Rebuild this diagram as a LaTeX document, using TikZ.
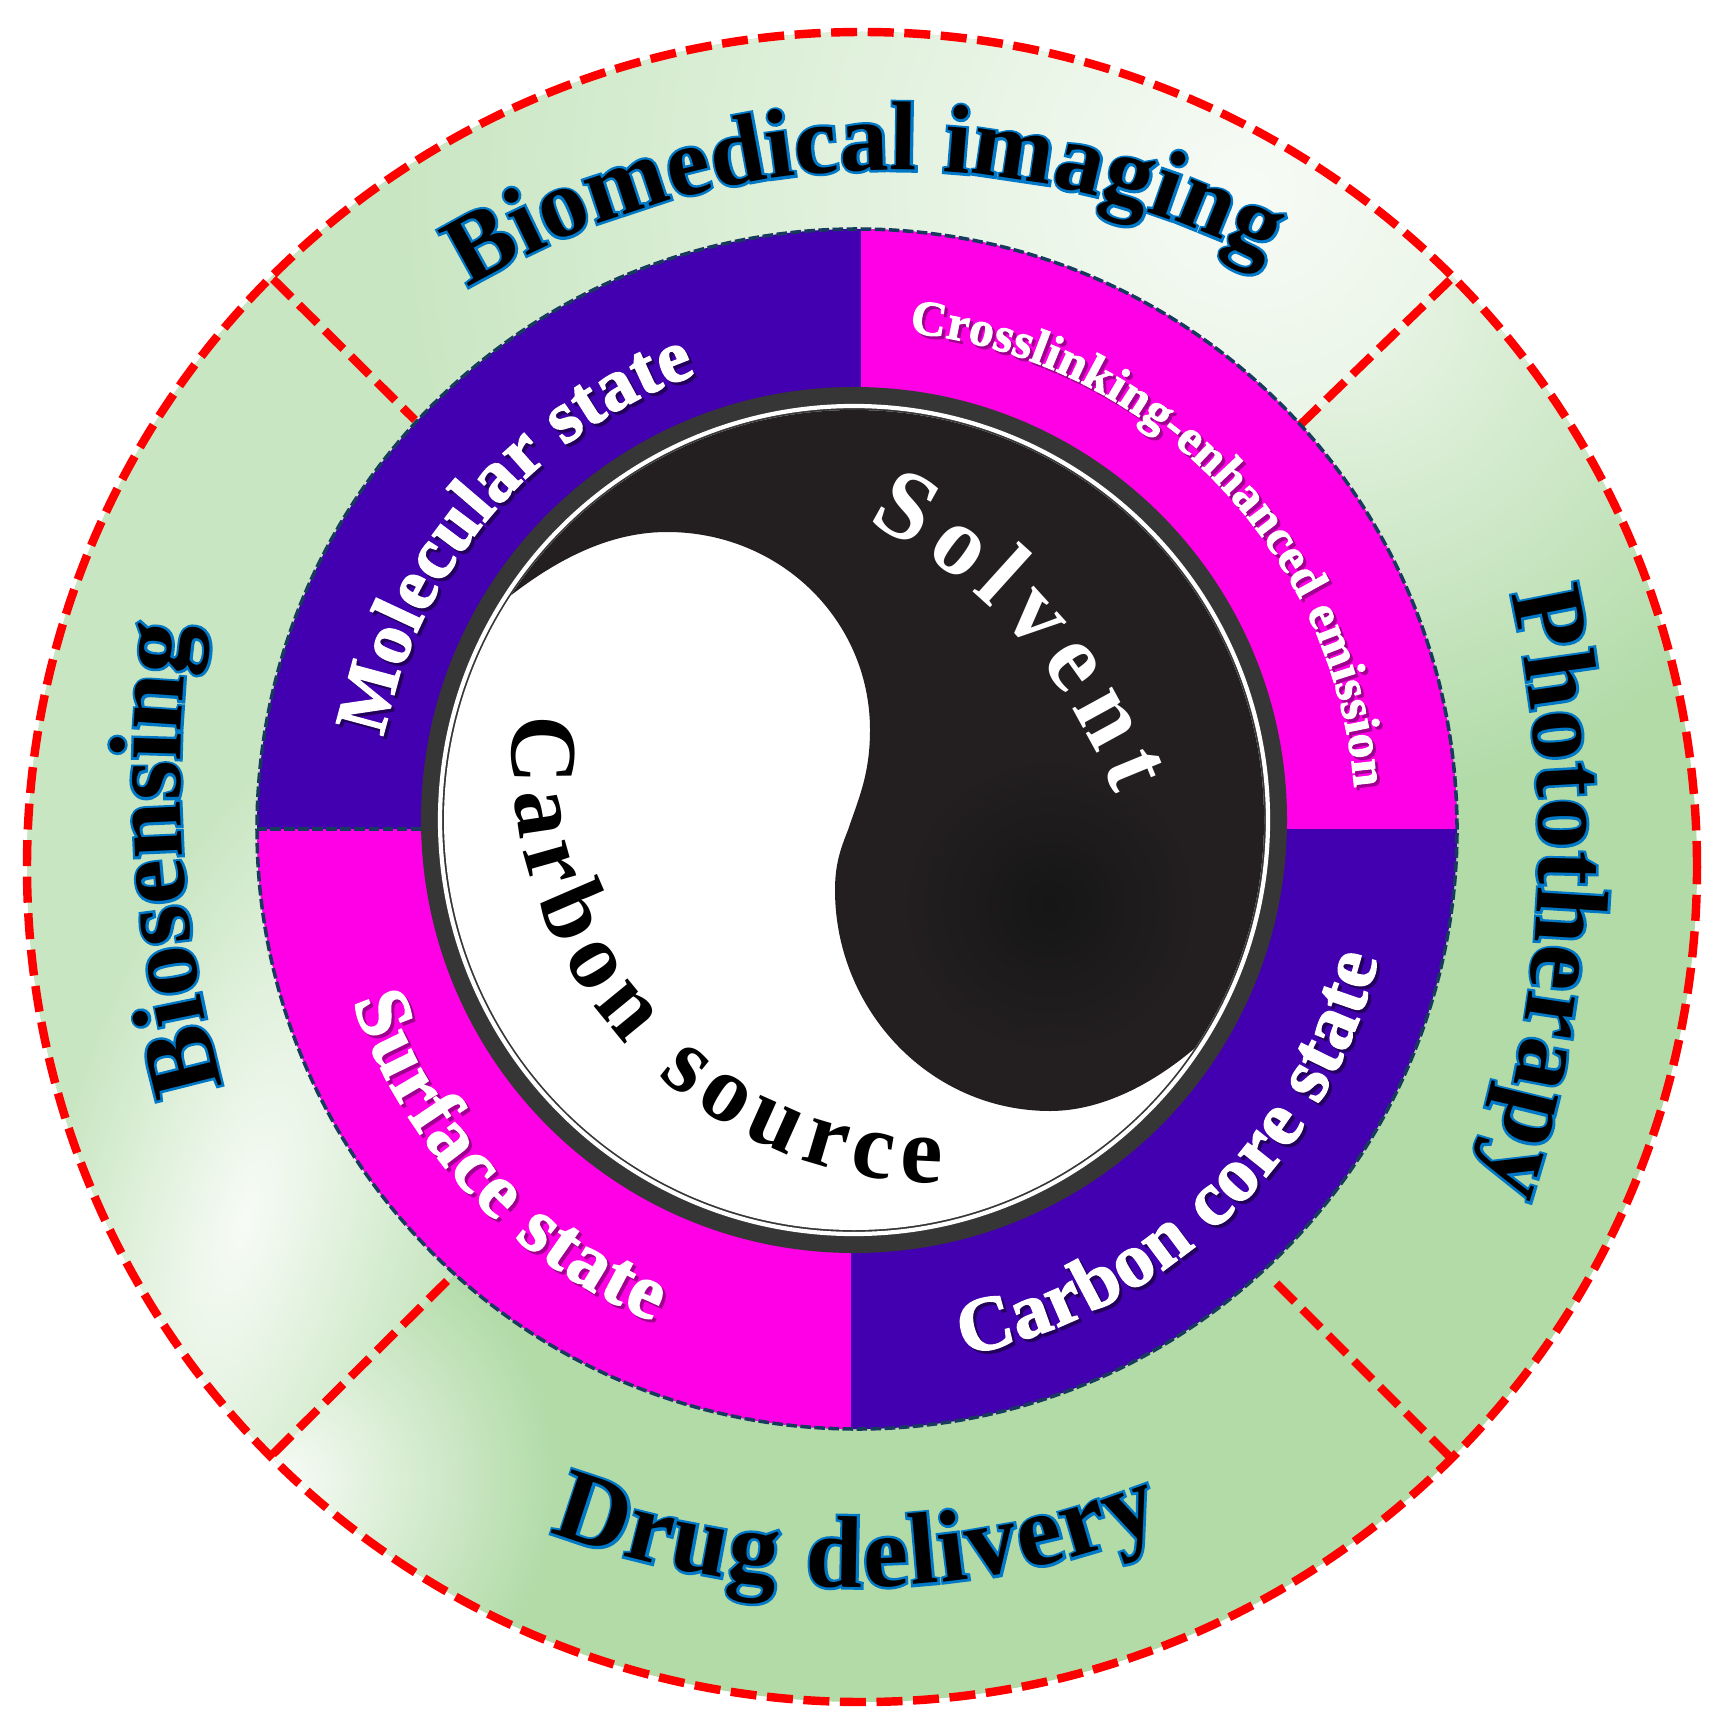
\documentclass[tikz,border=0pt]{standalone}
\usepackage{fontspec}
\usetikzlibrary{decorations.text}
\setmainfont{Liberation Serif}
\newfontface\boldface{Liberation Serif Bold}
\newfontface\heavyface[FakeBold=2]{Liberation Serif Bold}
\newfontface\haloface[FakeBold=5]{Liberation Serif Bold}
\definecolor{ringgreen}{HTML}{B2DBA8}
\definecolor{palegreen}{HTML}{C9E6C2}
\definecolor{highlight}{HTML}{F7FBF6}
\definecolor{dashred}{HTML}{FF0000}
\definecolor{magentaseg}{HTML}{FF00E6}
\definecolor{purpleseg}{HTML}{4300B0}
\definecolor{edgeblue}{HTML}{173A5E}
\definecolor{ringdark}{HTML}{363636}
\definecolor{solventblack}{HTML}{231F20}
\definecolor{blobblack}{HTML}{161616}
\definecolor{haloblue}{HTML}{0078C8}
\definecolor{shadepurple}{HTML}{22005C}
\definecolor{shademagenta}{HTML}{A00090}
\tikzset{
  reddash/.style={draw=dashred,line width=2.4pt,dash pattern=on 7.4pt off 3pt},
}
% cx cy r start end format text
\newcommand\arctxt[7]{%
  \path[decorate,decoration={text along path,text align={fit to path},text={|#6|#7}}]
    ([shift={(#1,#2)}]#4:#3) arc[start angle=#4,end angle=#5,radius=#3];}
% application label: blue halo, then black
\newcommand\halolabel[7]{%
  \arctxt{#1}{#2}{#3}{#4}{#5}{\haloface\fontsize{#6}{#6}\selectfont\color{haloblue}}{#7}%
  \arctxt{#1}{#2}{#3}{#4}{#5}{\boldface\fontsize{#6}{#6}\selectfont\color{black}}{#7}}
% state label: shadow, then heavy white
\newcommand\shadowlabel[8]{%
  \begin{scope}[shift={(3,-3)}]
  \arctxt{#1}{#2}{#3}{#4}{#5}{\heavyface\fontsize{#6}{#6}\selectfont\color{#8}}{#7}%
  \end{scope}
  \arctxt{#1}{#2}{#3}{#4}{#5}{\heavyface\fontsize{#6}{#6}\selectfont\color{white}}{#7}}
\begin{document}
\begin{tikzpicture}[x=0.01cm,y=0.01cm]
\useasboundingbox (0,0) rectangle (1728,-1734);
\fill[white] (0,0) rectangle (1728,-1734);
% outer green ring with its highlights
\begin{scope}
  \clip (862,-867) circle (835);
  \fill[ringgreen] (0,0) rectangle (1728,-1734);
  \begin{scope}
    \clip (862,-867) -- (-38,33) -- (1762,33) -- cycle;
    \fill[palegreen] (0,0) rectangle (1728,-1734);
    \shade[inner color=highlight,outer color=palegreen] (1250,-188) circle (850);
  \end{scope}
  \begin{scope}
    \clip (862,-867) -- (1762,33) -- (1762,-1767) -- cycle;
    \shade[inner color=highlight!80!palegreen,outer color=ringgreen] (1340,-300) circle (500);
  \end{scope}
  \begin{scope}
    \clip (862,-867) -- (1762,-1767) -- (-38,-1767) -- cycle;
    \shade[inner color=highlight,outer color=ringgreen] (285,-1480) circle (270);
  \end{scope}
  \begin{scope}
    \clip (862,-867) -- (-38,-1767) -- (-38,33) -- cycle;
    \fill[palegreen] (0,0) rectangle (1728,-1734);
    \begin{scope}[transform canvas={shift={(245,-1220)},rotate=-15.6}]
      \shade[inner color=highlight,outer color=palegreen] (0,0) ellipse [x radius=200,y radius=520];
    \end{scope}
  \end{scope}
\end{scope}
% radial red dashes and dashed outer circle
\draw[reddash] (273,-279) -- (415,-420);
\draw[reddash] (1450,-280) -- (1298,-427);
\draw[reddash] (1450,-1457) -- (1270,-1277);
\draw[reddash] (273,-1454) -- (451,-1277);
\draw[reddash] (862,-867) circle (835);
% four state segments
\begin{scope}
  \clip (857,-829) circle (600);
  \fill[purpleseg] (200,-200) rectangle (1500,-1450);
  \fill[magentaseg] (861,-200) rectangle (1500,-829);
  \fill[magentaseg] (200,-829) rectangle (851,-1450);
  \draw[edgeblue,line width=1pt,dash pattern=on 3pt off 1pt] (256,-829) -- (500,-829);
\end{scope}
\draw[edgeblue,line width=1pt,dash pattern=on 3pt off 1pt] (857,-829) circle (600);
% dark rim and yin-yang disc
\fill[ringdark] (854,-820) circle (433);
\draw[white,line width=1.2pt] (854,-820) circle (414);
\begin{scope}
  \clip (854,-820) circle (410);
  \fill[white] (400,-400) rectangle (1300,-1260);
  \fill[solventblack] (470,-630)
    .. controls (530,-575) and (595,-532) .. (667,-532)
    .. controls (780,-532) and (870,-620) .. (870,-730)
    .. controls (870,-775) and (858,-800) .. (848,-830)
    .. controls (840,-850) and (835,-865) .. (835,-890)
    .. controls (835,-1010) and (930,-1111) .. (1050,-1111)
    .. controls (1105,-1111) and (1165,-1080) .. (1220,-1025)
    -- (1400,-1025) -- (1400,-300) -- (400,-300) -- (400,-630) -- cycle;
  \shade[inner color=blobblack,outer color=solventblack] (1050,-905) circle (150);
\end{scope}
% yin-yang labels
\arctxt{649}{-969}{497}{64}{20.5}{\boldface\fontsize{28}{28}\selectfont\color{white}}{Solvent}
\arctxt{942}{-753}{430}{175}{270}{\boldface\fontsize{27}{27}\selectfont\color{black}}{Carbon source}
% state labels
\shadowlabel{857}{-829}{482}{169}{109.5}{21}{Molecular state}{shadepurple}
\shadowlabel{857}{-829}{499}{84}{4.8}{14}{Crosslinking-enhanced emission}{shademagenta}
\shadowlabel{857}{-829}{537}{-78.5}{-14}{22}{Carbon core state}{shadepurple}
\shadowlabel{857}{-829}{533}{198.9}{247.5}{22}{Surface state}{shademagenta}
% application labels
\halolabel{890}{-985}{815}{121.2}{62.5}{27.8}{Biomedical imaging}
\halolabel{409}{-844}{1130}{12.8}{-17.8}{29}{Phototherapy}
\halolabel{851}{-736}{851}{249.3}{291.5}{29}{Drug delivery}
\halolabel{1304}{-780}{1124}{195.8}{172.35}{29}{Biosensing}
\end{tikzpicture}
\end{document}
